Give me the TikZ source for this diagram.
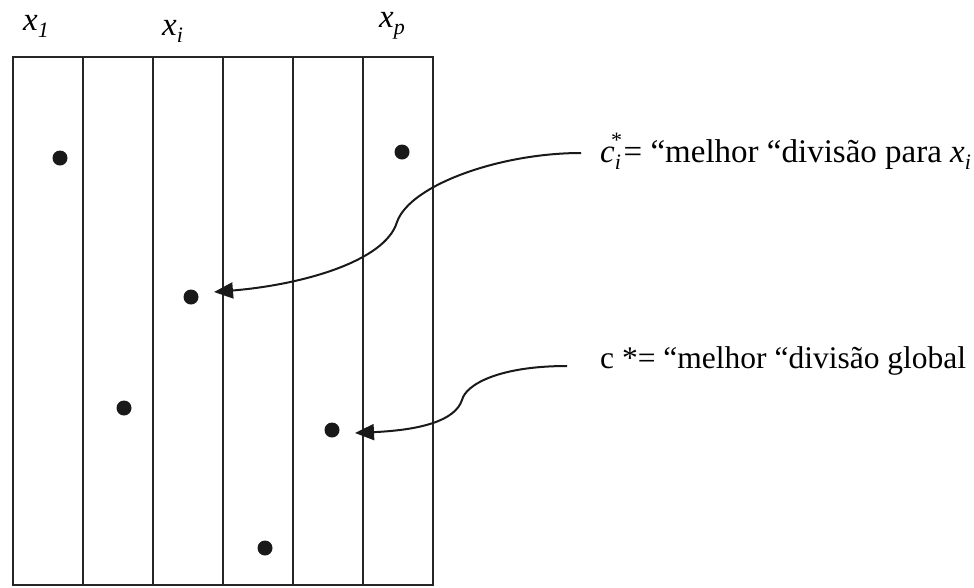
\documentclass[tikz,border=0pt]{standalone}
\usepackage{fontspec}
\setmainfont{Liberation Serif}
\usetikzlibrary{arrows.meta}
\begin{document}
\begin{tikzpicture}[x=1pt,y=-1pt,
  gridline/.style={draw=black!85,line width=1.1pt},
  dot/.style={circle,fill=black!90,inner sep=0pt,minimum size=15pt},
  curvearrow/.style={draw=black!90,line width=2pt,-{Triangle[length=19pt,width=16pt]}},
  lbl/.style={inner sep=0pt,anchor=base west,font=\fontsize{33}{40}\selectfont}]
\useasboundingbox (0,0) rectangle (974,587);
% grid box
\draw[gridline] (13,57) rectangle (433,585);
\foreach \xx in {83,153,223,293,363}{\draw[gridline] (\xx,57) -- (\xx,585);}
% column labels
\node[lbl] (x1) at (23,30) {\textit{x}\raisebox{-0.22em}{\fontsize{22}{24}\selectfont\textit{1}}};
\node[lbl] (xi) at (162,35) {\textit{x}\raisebox{-0.22em}{\fontsize{22}{24}\selectfont\textit{i}}};
\node[lbl] (xp) at (379,27) {\textit{x}\raisebox{-0.22em}{\fontsize{22}{24}\selectfont\textit{p}}};
% dots
\node[dot] (d1) at (60,158) {};
\node[dot] (d2) at (402,152) {};
\node[dot] (d3) at (191,297) {};
\node[dot] (d4) at (124,408) {};
\node[dot] (d5) at (332,430) {};
\node[dot] (d6) at (265,548) {};
% texts
\node[lbl] (t1) at (600,162) {\textit{c}\raisebox{-0.24em}{\fontsize{22}{24}\selectfont\textit{i}}\kern-0.3em\raisebox{0.45em}{\fontsize{22}{24}\selectfont *}\kern0.05em= “melhor “divisão para \textit{x}\raisebox{-0.22em}{\fontsize{22}{24}\selectfont\textit{i}}};
\node[lbl,font=\fontsize{31.5}{38}\selectfont] (t2) at (600,368) {c *= “melhor “divisão global};
% arrows
\coordinate (s1) at (581,153);
\coordinate (e1) at (214,292);
\coordinate (s2) at (567,366);
\coordinate (e2) at (355,433);
\draw[curvearrow] (s1) .. controls (500,153) and (410,185) .. (397,222) .. controls (385,262) and (300,285) .. (e1);
\draw[curvearrow] (s2) .. controls (500,366) and (466,384) .. (462,400) .. controls (455,421) and (420,430) .. (e2);
\end{tikzpicture}
\end{document}
